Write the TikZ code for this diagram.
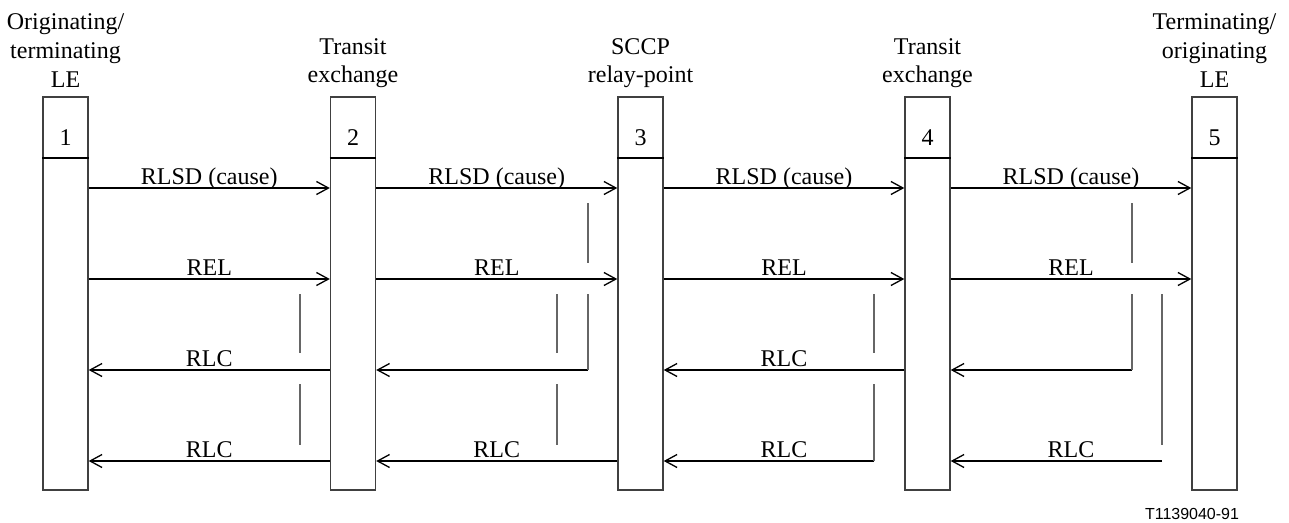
\documentclass[tikz,border=0pt]{standalone}
\usepackage{fontspec}
\setmainfont{Liberation Serif}
\newfontfamily\fnsans{Liberation Sans}
\usetikzlibrary{arrows.meta}
\begin{document}
\begin{tikzpicture}[x=1pt,y=-1pt,
  lane/.style={draw=black!75, line width=1.4pt, minimum width=45pt, minimum height=393pt, inner sep=0pt},
  divider/.style={line width=2pt},
  msg/.style={line width=2pt, -{Straight Barb[length=12pt,width=13pt,line width=1.3pt]}},
  tmr/.style={draw=black!60, line width=1.2pt},
  hdr/.style={anchor=base, inner sep=0pt, font=\fontsize{24}{29}\selectfont},
  lbl/.style={anchor=base, inner sep=0pt, font=\fontsize{24}{29}\selectfont},
]
\useasboundingbox (0,0) rectangle (1289,522);
% lanes
\foreach \i/\cx in {1/65.5,2/353,3/640.5,4/927.5,5/1214.5}{
  \node[lane] (b\i) at (\cx,293.5) {};
  \draw[divider] (b\i.west |- 0,158) -- (b\i.east |- 0,158);
  \node[hdr] (n\i) at (\cx,145) {\i};
}
% headers
\node[hdr] (h1a) at (65.5,29) {Originating/};
\node[hdr] (h1b) at (65.5,58) {terminating};
\node[hdr] (h1c) at (65.5,87) {LE};
\node[hdr] (h2a) at (353,54) {Transit};
\node[hdr] (h2b) at (353,82) {exchange};
\node[hdr] (h3a) at (640.5,54) {SCCP};
\node[hdr] (h3b) at (640.5,82) {relay-point};
\node[hdr] (h4a) at (927.5,54) {Transit};
\node[hdr] (h4b) at (927.5,82) {exchange};
\node[hdr] (h5a) at (1214.5,29) {Terminating/};
\node[hdr] (h5b) at (1214.5,58) {originating};
\node[hdr] (h5c) at (1214.5,87) {LE};
% RLSD row
\foreach \a/\b in {1/2,2/3,3/4,4/5}{
  \draw[msg] (b\a.east |- 0,188) -- (b\b.west |- 0,188);
  \path (b\a.east |- 0,184) -- (b\b.west |- 0,184) node[lbl,midway] (rlsd\a) {RLSD (cause)};
  \draw[msg] (b\a.east |- 0,279) -- (b\b.west |- 0,279);
  \path (b\a.east |- 0,275) -- (b\b.west |- 0,275) node[lbl,midway] (rel\a) {REL};
}
% timer ends
\coordinate (t3a) at (588,370);
\coordinate (t5a) at (1132,370);
\coordinate (t4b) at (874,461);
\coordinate (t5b) at (1162,461);
% RLC row 1
\draw[msg] (b2.west |- 0,370) -- (b1.east |- 0,370);
\path (b1.east |- 0,366) -- (b2.west |- 0,366) node[lbl,midway] (rlc1a) {RLC};
\draw[msg] (t3a) -- (b2.east |- t3a);
\draw[msg] (b4.west |- 0,370) -- (b3.east |- 0,370);
\path (b3.east |- 0,366) -- (b4.west |- 0,366) node[lbl,midway] (rlc1c) {RLC};
\draw[msg] (t5a) -- (b4.east |- t5a);
% RLC row 2
\draw[msg] (b2.west |- 0,461) -- (b1.east |- 0,461);
\path (b1.east |- 0,457) -- (b2.west |- 0,457) node[lbl,midway] (rlc2a) {RLC};
\draw[msg] (b3.west |- 0,461) -- (b2.east |- 0,461);
\path (b2.east |- 0,457) -- (b3.west |- 0,457) node[lbl,midway] (rlc2b) {RLC};
\draw[msg] (t4b) -- (b3.east |- t4b);
\path (b3.east |- 0,457) -- (b4.west |- 0,457) node[lbl,midway] (rlc2c) {RLC};
\draw[msg] (t5b) -- (b4.east |- t5b);
\path (b4.east |- 0,457) -- (b5.west |- 0,457) node[lbl,midway] (rlc2d) {RLC};
% timers
\draw[tmr] (300,294) -- (300,353) (300,384) -- (300,445);
\draw[tmr] (557,294) -- (557,353) (557,384) -- (557,445);
\draw[tmr] (588,203) -- (588,263) (588,294) -- (t3a);
\draw[tmr] (874,294) -- (874,353) (874,384) -- (t4b);
\draw[tmr] (1132,203) -- (1132,263) (1132,294) -- (t5a);
\draw[tmr] (1162,294) -- (1162,445);
% footnote
\node[anchor=base, inner sep=0pt, font=\fnsans\fontsize{16}{19}\selectfont] (fn) at (1192,519) {T1139040-91};
\end{tikzpicture}
\end{document}
